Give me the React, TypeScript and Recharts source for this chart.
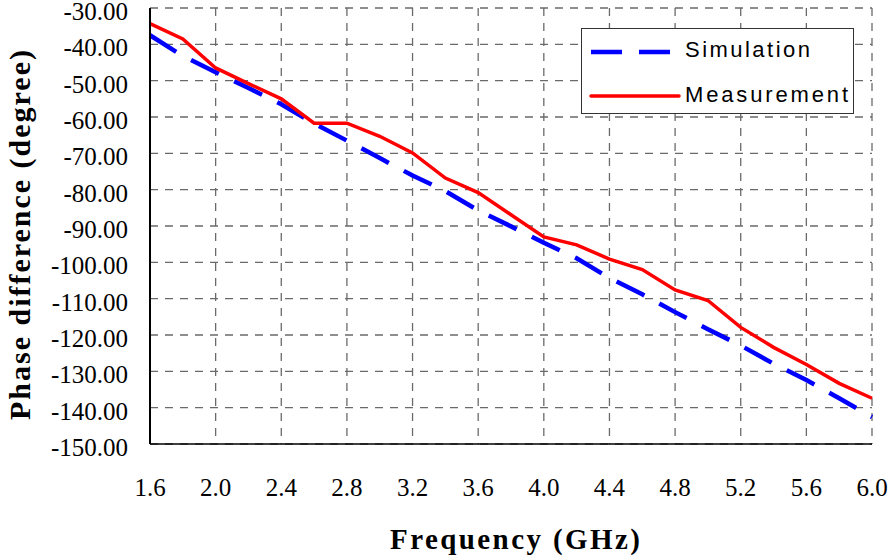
import { CartesianGrid, Line, LineChart, XAxis, YAxis } from "recharts";

const freqs = [1.6, 1.8, 2.0, 2.2, 2.4, 2.6, 2.8, 3.0, 3.2, 3.4, 3.6, 3.8, 4.0, 4.2, 4.4, 4.6, 4.8, 5.0, 5.2, 5.4, 5.6, 5.8, 6.0];
const simulation = [-37.5, -43.2, -47.7, -52, -56.5, -61.8, -66.5, -71.3, -76.1, -80.4, -85.7, -90.1, -94.6, -98.9, -104.3, -108.8, -113.7, -118.4, -122.9, -127.9, -132.4, -137.4, -142.6];
const measurement = [-34.3, -38.5, -46.5, -50.8, -55, -61.7, -61.7, -65.3, -69.9, -76.8, -80.8, -86.9, -93, -95.2, -99.1, -102, -107.6, -110.5, -117.9, -123.4, -128.1, -133.3, -137.4];
const xTicks = [1.6, 2.0, 2.4, 2.8, 3.2, 3.6, 4.0, 4.4, 4.8, 5.2, 5.6, 6.0];
const yTicks = [-30, -40, -50, -60, -70, -80, -90, -100, -110, -120, -130, -140, -150];

const data = freqs.map((f, i) => ({ f, sim: simulation[i], meas: measurement[i] }));

const serif = "'Liberation Serif', 'Times New Roman', serif";
const sans = "'Liberation Sans', Arial, sans-serif";

function XTick({ x, y, payload }: any) {
  return (
    <text x={x} y={y + 52} textAnchor="middle" fontFamily={serif} fontSize={25} fill="#000">
      {payload.value.toFixed(1)}
    </text>
  );
}

function YTick({ x, y, payload }: any) {
  return (
    <text x={x} y={y + 12} textAnchor="end" fontFamily={serif} fontSize={25} fill="#000">
      {payload.value.toFixed(2)}
    </text>
  );
}

function XTitle() {
  return (
    <text x={515} y={549} textAnchor="middle" fontFamily={serif} fontWeight="bold" fontSize={29} fill="#000" textLength={250} lengthAdjust="spacing">
      Frequency (GHz)
    </text>
  );
}

function YTitle() {
  return (
    <text transform="translate(30,235) rotate(-90)" textAnchor="middle" fontFamily={serif} fontWeight="bold" fontSize={30} fill="#000" textLength={370} lengthAdjust="spacing">
      Phase difference (degree)
    </text>
  );
}

function LegendBox() {
  return (
    <svg width={274} height={87} style={{ position: "absolute", left: 581, top: 28, display: "block" }}>
      <rect x={0.5} y={0.5} width={272} height={85} fill="#fff" stroke="#333" />
      <line x1={10} y1={24} x2={99} y2={24} stroke="#0000ff" strokeWidth={4.5} strokeDasharray="31 17" />
      <text x={104} y={29} fontFamily={sans} fontSize={22} fill="#000" textLength={125} lengthAdjust="spacing">Simulation</text>
      <line x1={10} y1={68} x2={98} y2={68} stroke="#ff0000" strokeWidth={3.5} strokeLinecap="round" />
      <text x={104} y={74} fontFamily={sans} fontSize={22} fill="#000" textLength={163} lengthAdjust="spacing">Measurement</text>
    </svg>
  );
}

export default function App() {
  return (
    <div style={{ position: "absolute", left: 0, top: 0, width: 890, height: 556, background: "#fff" }}>
      <LineChart width={890} height={556} data={data} margin={{ top: 8, right: 18, bottom: 0, left: 0 }}>
        <CartesianGrid horizontal={false} stroke="#6a6a6a" strokeWidth={1.3} strokeDasharray="8 7" />
        <CartesianGrid vertical={false} stroke="#6a6a6a" strokeWidth={1.3} strokeDasharray="8 7" />
        <XAxis
          dataKey="f"
          type="number"
          domain={[1.6, 6.0]}
          ticks={xTicks}
          height={112}
          tickSize={0}
          tickMargin={0}
          tickLine={false}
          axisLine={{ stroke: "#000", strokeWidth: 1.5 }}
          tick={<XTick />}
          interval={0}
          label={<XTitle />}
        />
        <YAxis
          type="number"
          domain={[-150, -30]}
          ticks={yTicks}
          width={150}
          tickSize={0}
          tickMargin={22}
          tickLine={false}
          axisLine={{ stroke: "#000", strokeWidth: 2 }}
          tick={<YTick />}
          interval={0}
          label={<YTitle />}
        />
        <YAxis yAxisId="r" orientation="right" width={0} domain={[-150, -30]} tick={false} tickLine={false} axisLine={{ stroke: "#000", strokeWidth: 1.2 }} />
        <Line type="linear" dataKey="sim" name="Simulation" stroke="#0000ff" strokeWidth={4.5} strokeDasharray="31 17" dot={false} isAnimationActive={false} />
        <Line type="linear" dataKey="meas" name="Measurement" stroke="#ff0000" strokeWidth={3.5} dot={false} isAnimationActive={false} />
      </LineChart>
      <LegendBox />
    </div>
  );
}
